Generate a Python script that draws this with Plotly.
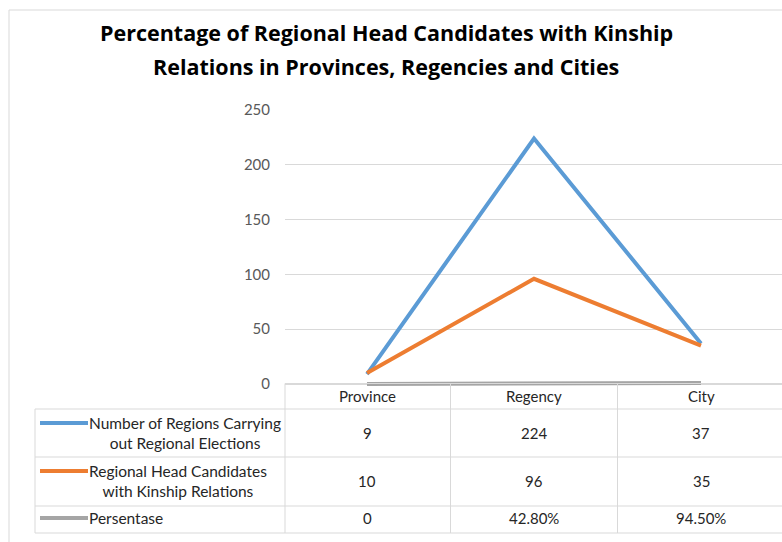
import plotly.graph_objects as go

W, H = 782, 542

categories = ["Province", "Regency", "City"]
regions_count = [9, 224, 37]
kinship_candidates = [10, 96, 35]
persentase = [0, 0.428, 0.945]

series_names = [
    "Number of Regions Carrying<br>out Regional Elections",
    "Regional Head Candidates<br>with Kinship Relations",
    "Persentase",
]
series_colors = ["#5B9BD5", "#ED7D31", "#A5A5A5"]

title_lines = [
    "Percentage of Regional Head Candidates with Kinship",
    "Relations in Provinces, Regencies and Cities",
]

FONT = "Lato"
TITLE_FONT = "Open Sans"
GRID = "#d9d9d9"
TXT = "#262626"


def px(x):
    return x / W


def py(y):
    return 1 - y / H


def fmt_pct(v):
    return "0" if v == 0 else f"{v * 100:.2f}%"


fig = go.Figure()
for name, vals, col in zip(series_names, [regions_count, kinship_candidates, persentase], series_colors):
    fig.add_trace(go.Scatter(
        x=categories, y=vals, mode="lines", name=name.replace("<br>", " "),
        line=dict(color=col, width=4), hoverinfo="skip",
    ))

shapes = []
annotations = []

# outer frame
shapes.append(dict(type="rect", xref="paper", yref="paper", x0=px(9), x1=px(W + 20),
                   y0=py(H + 20), y1=py(10), line=dict(color=GRID, width=1)))

# table grid
for yy in [409, 457, 506, 533]:
    shapes.append(dict(type="line", xref="paper", yref="paper", x0=px(35), x1=1,
                       y0=py(yy), y1=py(yy), line=dict(color=GRID, width=1)))
shapes.append(dict(type="line", xref="paper", yref="paper", x0=px(285), x1=1,
                   y0=py(383.5), y1=py(383.5), line=dict(color=GRID, width=1)))
shapes.append(dict(type="line", xref="paper", yref="paper", x0=px(35), x1=px(35),
                   y0=py(409), y1=py(533), line=dict(color=GRID, width=1)))
shapes.append(dict(type="line", xref="paper", yref="paper", x0=px(285), x1=px(285),
                   y0=py(383.5), y1=py(533), line=dict(color=GRID, width=1)))
for xb in [0.5, 1.5, 2.5]:
    shapes.append(dict(type="line", xref="x", yref="paper", x0=xb, x1=xb,
                       y0=py(383.5), y1=py(533), line=dict(color=GRID, width=1)))

for c in categories:
    annotations.append(dict(x=c, xref="x", y=py(396), yref="paper", text=c, showarrow=False,
                            xanchor="center", yanchor="middle",
                            font=dict(family=FONT, size=15, color=TXT)))

row_centers = [433, 481, 518]
legend_line_y = [423, 471, 518]
row_values = [
    [str(v) for v in regions_count],
    [str(v) for v in kinship_candidates],
    [fmt_pct(v) for v in persentase],
]
for i, (name, col) in enumerate(zip(series_names, series_colors)):
    shapes.append(dict(type="line", xref="paper", yref="paper", x0=px(40), x1=px(88),
                       y0=py(legend_line_y[i]), y1=py(legend_line_y[i]),
                       line=dict(color=col, width=4)))
    annotations.append(dict(x=px(87), xref="paper", y=py(row_centers[i]), yref="paper",
                            text=name, showarrow=False, xanchor="left", yanchor="middle",
                            align="center",
                            font=dict(family=FONT, size=15.5, color=TXT)))
    for c, v in zip(categories, row_values[i]):
        annotations.append(dict(x=c, xref="x", y=py(row_centers[i]), yref="paper", text=v,
                                showarrow=False, xanchor="center", yanchor="middle",
                                font=dict(family=FONT, size=15, color=TXT)))

for t, yy in zip(title_lines, [33, 66]):
    annotations.append(dict(x=px(386), xref="paper", y=py(yy), yref="paper", text=f"<b>{t}</b>",
                            showarrow=False, xanchor="center", yanchor="middle",
                            font=dict(family=TITLE_FONT, size=21.5, color="#000000")))

# y range extends slightly below 0 so the thick near-zero line is not clipped;
# domain bottom is shifted accordingly so that 0 stays at the same pixel.
y_unit_px = (384 - 110) / 250.0
y_low = -2.5
fig.update_layout(
    width=W, height=H, margin=dict(l=0, r=0, t=0, b=0, autoexpand=False),
    autosize=False,
    paper_bgcolor="white", plot_bgcolor="white", showlegend=False,
    shapes=shapes, annotations=annotations,
    xaxis=dict(domain=[px(285), 1], range=[-0.491, 2.485], showticklabels=False,
               showgrid=False, zeroline=False, showline=False, fixedrange=True,
               automargin=False),
    yaxis=dict(domain=[py(384 - y_low * y_unit_px), py(110)], range=[y_low, 250],
               tick0=0, dtick=50, showgrid=True,
               gridcolor=GRID, gridwidth=1, zeroline=False, showline=False,
               ticklabelstandoff=14, automargin=False,
               tickfont=dict(family=FONT, size=15, color="#595959"), fixedrange=True),
)

fig.write_html(
    "out.html",
    config={"displayModeBar": False},
    post_script="document.body.style.margin='0';document.body.style.overflow='hidden';",
)
